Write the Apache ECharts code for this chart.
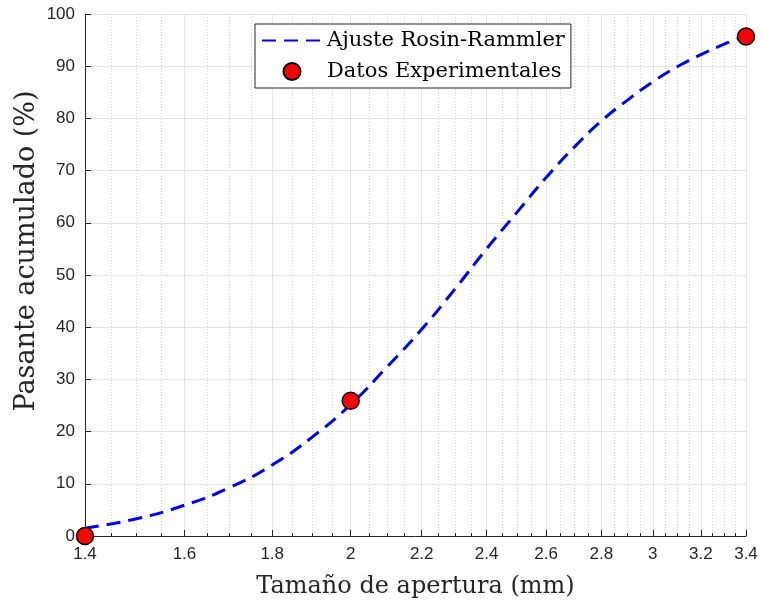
<!DOCTYPE html>
<html>
<head>
<meta charset="utf-8">
<script src="https://cdn.jsdelivr.net/npm/echarts@6/dist/echarts.min.js"></script>
<style>
  html, body { margin: 0; padding: 0; background: #fff; }
  #chart { width: 761px; height: 606px; }
</style>
</head>
<body>
<div id="chart"></div>
<script>
// Rosin-Rammler fit
const fitSizes = [1.4, 1.5, 1.6, 1.7, 1.8, 1.9, 2.0, 2.1, 2.2, 2.3, 2.4, 2.5, 2.6, 2.7, 2.8, 2.9, 3.0, 3.1, 3.2, 3.3, 3.4];
const fitPassing = [1.5, 3.3, 5.9, 9.3, 13.6, 19.0, 25.2, 32.4, 39.6, 47.3, 55.0, 62.0, 68.7, 74.5, 79.5, 83.5, 87.0, 89.9, 92.2, 94.2, 95.8];

// experimental points
const expSizes = [1.4, 2.0, 3.4];
const expPassing = [0, 25.9, 95.7];

// log x axis ticks
const xMajorTicks = [1.4, 1.6, 1.8, 2.0, 2.2, 2.4, 2.6, 2.8, 3.0, 3.2, 3.4];
const xMinorTicks = [1.45, 1.5, 1.55, 1.65, 1.7, 1.75, 1.85, 1.9, 1.95, 2.05, 2.1, 2.15,
  2.25, 2.3, 2.35, 2.45, 2.5, 2.55, 2.65, 2.7, 2.75, 2.85, 2.9, 2.95, 3.05, 3.1, 3.15,
  3.25, 3.3, 3.35];

const axisColor = '#262626';
const labelFont = { fontFamily: 'Liberation Sans', fontSize: 17, color: axisColor };

const chart = echarts.init(document.getElementById('chart'));
chart.setOption({
  animation: false,
  backgroundColor: '#fff',
  grid: { left: 85, right: 15, top: 14, bottom: 70 },
  legend: {
    orient: 'vertical',
    left: 255, top: 24,
    padding: [6, 6, 6, 6],
    itemGap: 10,
    itemWidth: 60, itemHeight: 17,
    backgroundColor: '#fff',
    borderColor: axisColor, borderWidth: 1,
    textStyle: { fontFamily: 'DejaVu Serif', fontSize: 21, color: '#000' },
    data: [
      { name: 'Ajuste Rosin-Rammler', icon: 'inherit', itemStyle: { opacity: 0 } },
      { name: 'Datos Experimentales' }
    ]
  },
  graphic: [{
    type: 'text',
    x: 27, y: 251,
    rotation: Math.PI / 2,
    style: {
      text: 'Pasante acumulado (%)',
      fontFamily: 'DejaVu Serif', fontSize: 27, fill: axisColor,
      align: 'center', verticalAlign: 'middle'
    }
  }],
  xAxis: [
    {
      type: 'log', logBase: 10, min: 1.4, max: 3.4,
      name: 'Tamaño de apertura (mm)', nameLocation: 'middle', nameGap: 39,
      nameTextStyle: { fontFamily: 'DejaVu Serif', fontSize: 24, color: axisColor },
      axisLine: { lineStyle: { color: axisColor, width: 1 } },
      axisTick: { inside: true, length: 6, customValues: xMajorTicks, lineStyle: { color: axisColor } },
      axisLabel: { customValues: xMajorTicks, margin: 10, ...labelFont,
        formatter: v => String(+(+v).toFixed(2)) },
      splitLine: { show: true, lineStyle: { color: '#e3e3e3', width: 1 } },
      minorTick: { show: false }
    },
    {
      type: 'log', logBase: 10, min: 1.4, max: 3.4, position: 'bottom',
      axisLine: { show: false },
      axisTick: { inside: true, length: 3, customValues: xMinorTicks, lineStyle: { color: axisColor } },
      axisLabel: { show: false, customValues: xMinorTicks },
      splitLine: { show: true, lineStyle: { color: '#d4d4d4', width: 1, type: [1, 2] } }
    }
  ],
  yAxis: {
    type: 'value', min: 0, max: 100, interval: 10,
    axisLine: { show: true, lineStyle: { color: axisColor, width: 1 } },
    axisTick: { show: true, inside: true, length: 6, lineStyle: { color: axisColor } },
    axisLabel: { margin: 10, ...labelFont },
    splitLine: { show: true, lineStyle: { color: '#e3e3e3', width: 1 } }
  },
  series: [
    {
      name: 'Ajuste Rosin-Rammler',
      type: 'line',
      xAxisIndex: 0,
      smooth: true,
      showSymbol: false,
      symbol: 'none',
      data: fitSizes.map((s, i) => [s, fitPassing[i]]),
      lineStyle: { color: '#0000ff', width: 3, type: [14, 8] },
      itemStyle: { color: '#0000ff' },
      z: 3
    },
    {
      name: 'Datos Experimentales',
      type: 'scatter',
      xAxisIndex: 0,
      symbol: 'circle',
      symbolSize: 17,
      data: expSizes.map((s, i) => [s, expPassing[i]]),
      itemStyle: { color: '#ff0000', opacity: 1, borderColor: '#000', borderWidth: 1.5 },
      clip: false,
      z: 4
    }
  ]
});
</script>
</body>
</html>
